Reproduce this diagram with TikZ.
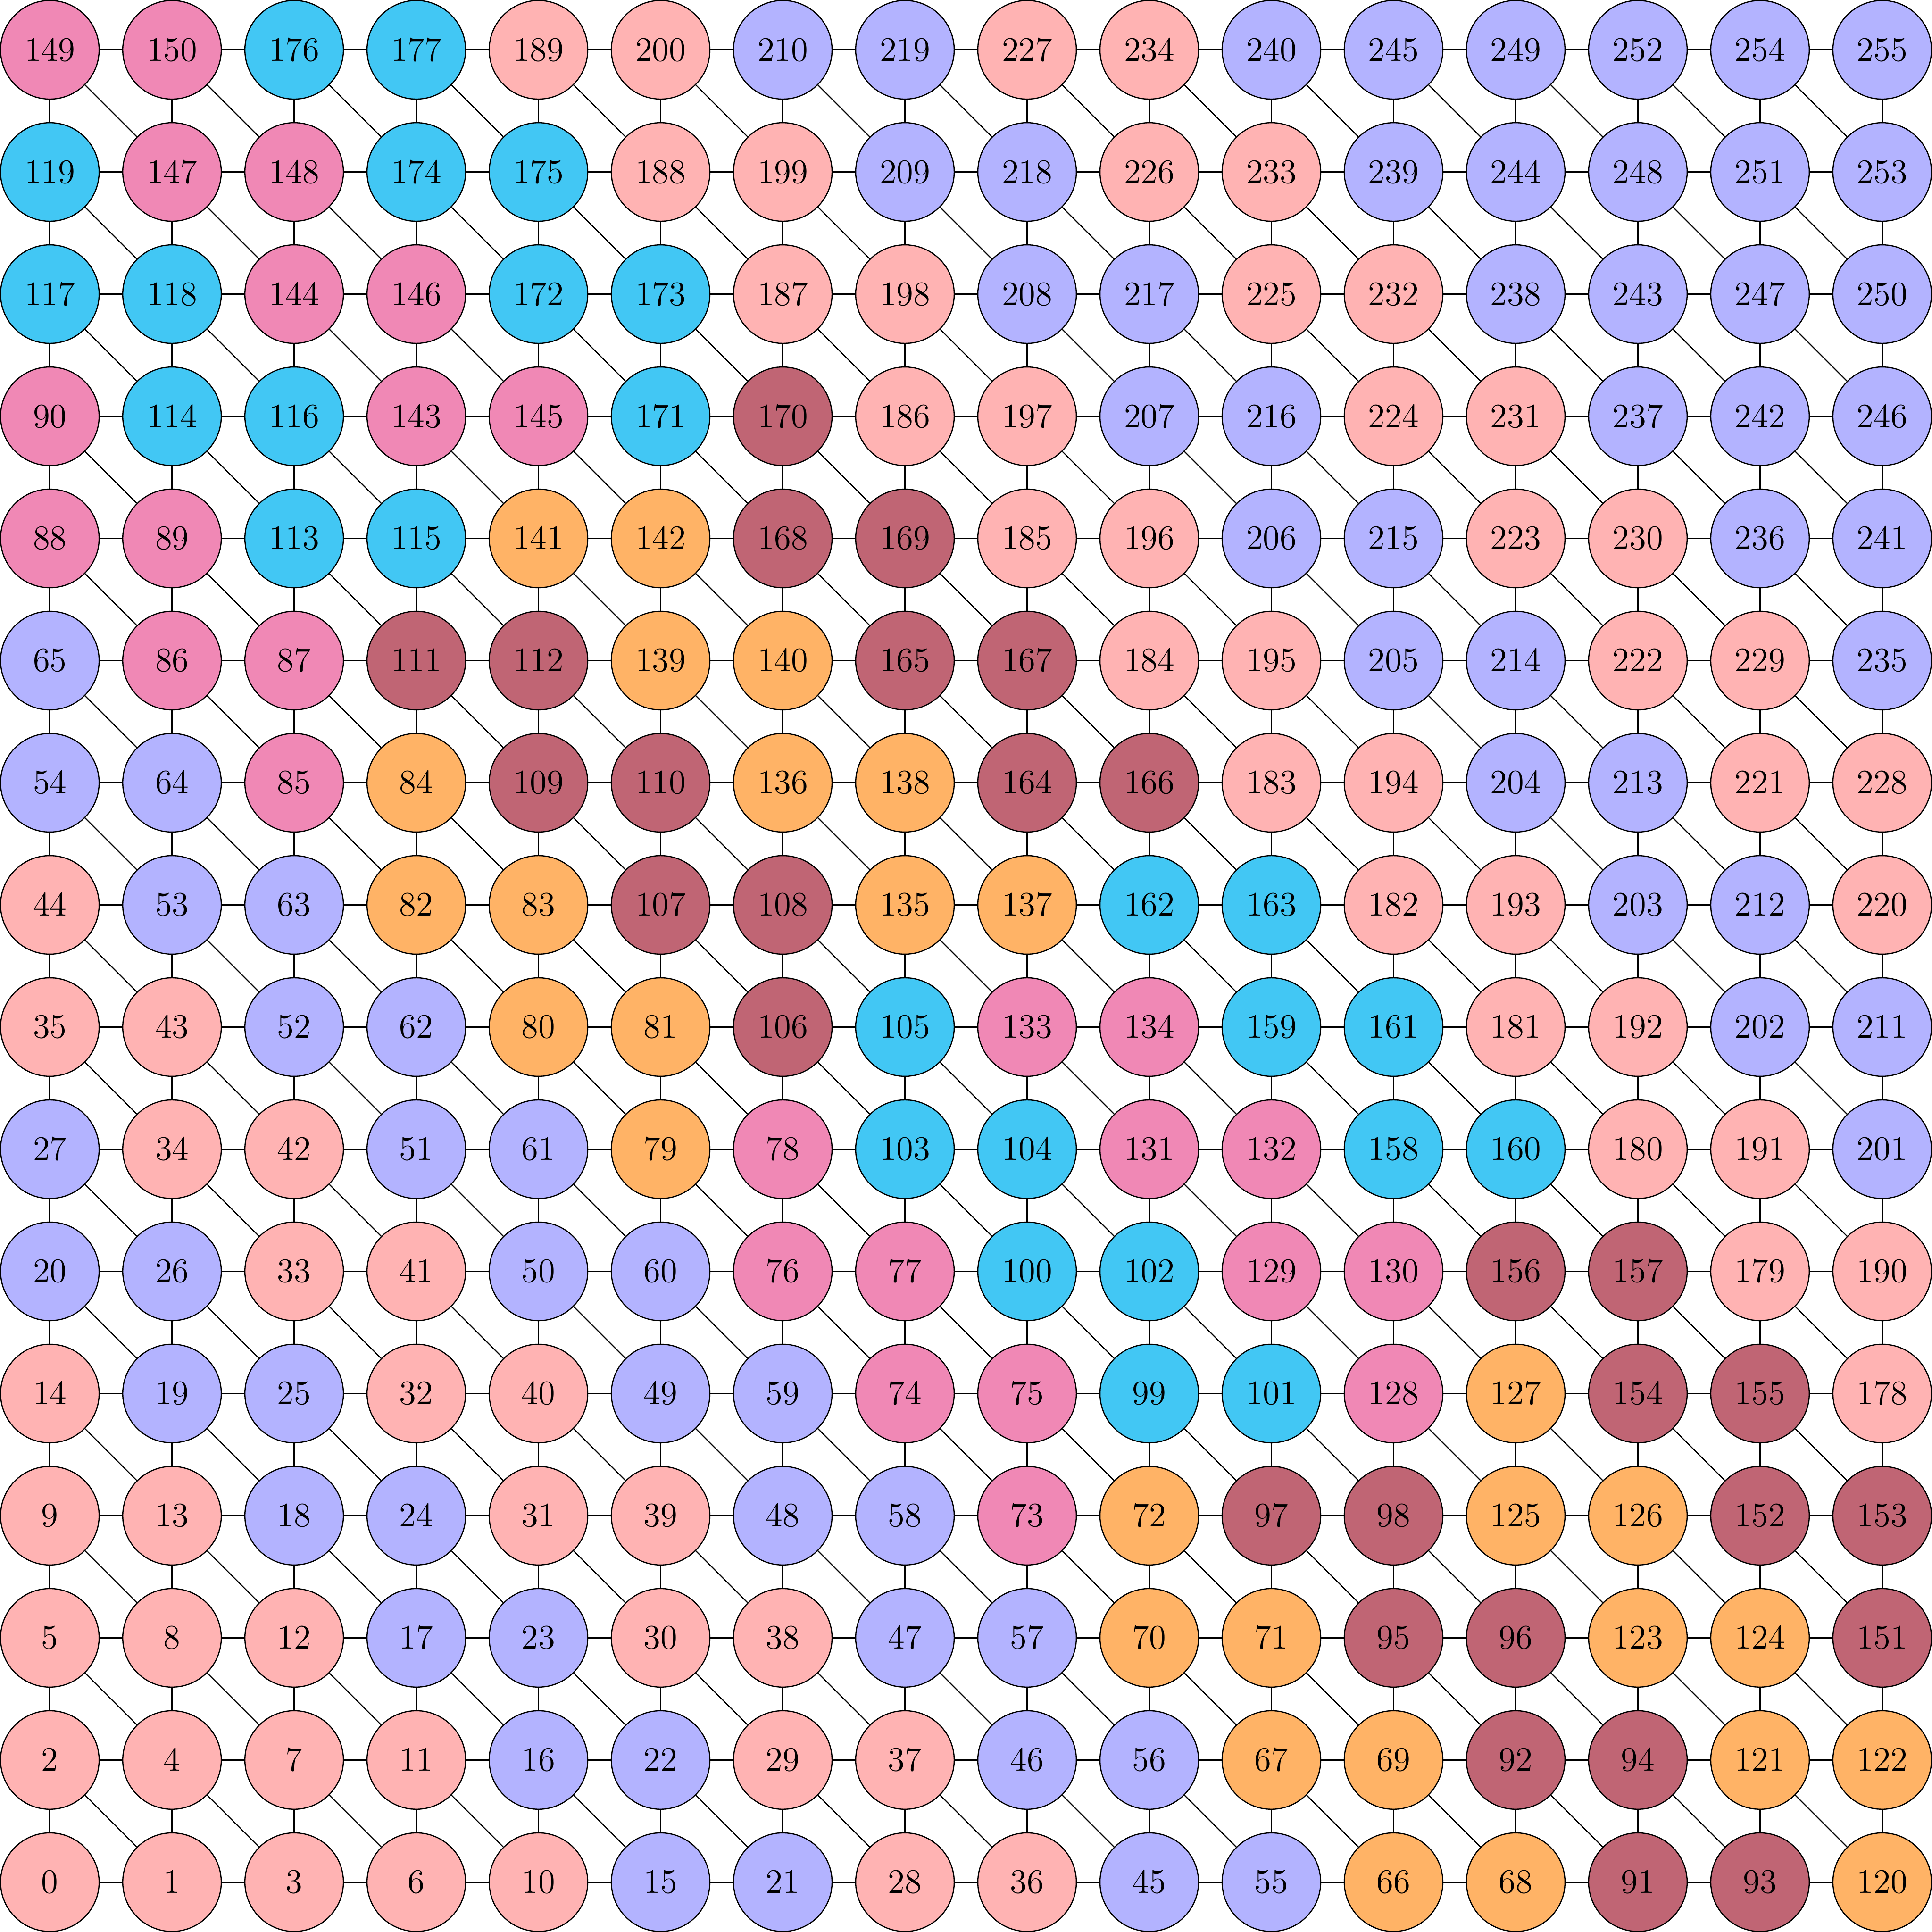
\documentclass[tikz,border=0pt]{standalone}
\usepackage{tikz}
\usepackage{xcolor}
\definecolor{rp}{RGB}{255,179,179}
\definecolor{la}{RGB}{179,179,255}
\definecolor{ro}{RGB}{240,136,181}
\definecolor{ci}{RGB}{66,199,244}
\definecolor{ab}{RGB}{255,179,102}
\definecolor{bo}{RGB}{192,101,116}
\tikzset{sommet/.style={circle, draw, thin, minimum size=1.21cm, inner sep=0pt,
    font=\fontsize{12.7}{15}\selectfont}}
\begin{document}
\begin{tikzpicture}[x=1.5cm, y=1.5cm]
	% Sommets, ligne par ligne depuis le haut
	\foreach \ligne [count=\k] in {
		{149/ro,150/ro,176/ci,177/ci,189/rp,200/rp,210/la,219/la,227/rp,234/rp,240/la,245/la,249/la,252/la,254/la,255/la},
		{119/ci,147/ro,148/ro,174/ci,175/ci,188/rp,199/rp,209/la,218/la,226/rp,233/rp,239/la,244/la,248/la,251/la,253/la},
		{117/ci,118/ci,144/ro,146/ro,172/ci,173/ci,187/rp,198/rp,208/la,217/la,225/rp,232/rp,238/la,243/la,247/la,250/la},
		{90/ro,114/ci,116/ci,143/ro,145/ro,171/ci,170/bo,186/rp,197/rp,207/la,216/la,224/rp,231/rp,237/la,242/la,246/la},
		{88/ro,89/ro,113/ci,115/ci,141/ab,142/ab,168/bo,169/bo,185/rp,196/rp,206/la,215/la,223/rp,230/rp,236/la,241/la},
		{65/la,86/ro,87/ro,111/bo,112/bo,139/ab,140/ab,165/bo,167/bo,184/rp,195/rp,205/la,214/la,222/rp,229/rp,235/la},
		{54/la,64/la,85/ro,84/ab,109/bo,110/bo,136/ab,138/ab,164/bo,166/bo,183/rp,194/rp,204/la,213/la,221/rp,228/rp},
		{44/rp,53/la,63/la,82/ab,83/ab,107/bo,108/bo,135/ab,137/ab,162/ci,163/ci,182/rp,193/rp,203/la,212/la,220/rp},
		{35/rp,43/rp,52/la,62/la,80/ab,81/ab,106/bo,105/ci,133/ro,134/ro,159/ci,161/ci,181/rp,192/rp,202/la,211/la},
		{27/la,34/rp,42/rp,51/la,61/la,79/ab,78/ro,103/ci,104/ci,131/ro,132/ro,158/ci,160/ci,180/rp,191/rp,201/la},
		{20/la,26/la,33/rp,41/rp,50/la,60/la,76/ro,77/ro,100/ci,102/ci,129/ro,130/ro,156/bo,157/bo,179/rp,190/rp},
		{14/rp,19/la,25/la,32/rp,40/rp,49/la,59/la,74/ro,75/ro,99/ci,101/ci,128/ro,127/ab,154/bo,155/bo,178/rp},
		{9/rp,13/rp,18/la,24/la,31/rp,39/rp,48/la,58/la,73/ro,72/ab,97/bo,98/bo,125/ab,126/ab,152/bo,153/bo},
		{5/rp,8/rp,12/rp,17/la,23/la,30/rp,38/rp,47/la,57/la,70/ab,71/ab,95/bo,96/bo,123/ab,124/ab,151/bo},
		{2/rp,4/rp,7/rp,11/rp,16/la,22/la,29/rp,37/rp,46/la,56/la,67/ab,69/ab,92/bo,94/bo,121/ab,122/ab},
		{0/rp,1/rp,3/rp,6/rp,10/rp,15/la,21/la,28/rp,36/rp,45/la,55/la,66/ab,68/ab,91/bo,93/bo,120/ab}}
	{
		\pgfmathtruncatemacro{\y}{16-\k}
		\foreach \n/\c [count=\i] in \ligne {
			\pgfmathtruncatemacro{\x}{\i-1}
			\node[sommet, fill=\c] (n-\x-\y) at (\x,\y) {$\n$};
		}
	}
	% Aretes horizontales, verticales et diagonales
	\foreach \a in {0,...,14}
		\foreach \c in {0,...,15} {
			\pgfmathtruncatemacro{\aa}{\a+1}
			\draw (n-\a-\c) -- (n-\aa-\c);
			\draw (n-\c-\a) -- (n-\c-\aa);
		}
	\foreach \a in {0,...,14}
		\foreach \c in {1,...,15} {
			\pgfmathtruncatemacro{\aa}{\a+1}
			\pgfmathtruncatemacro{\cc}{\c-1}
			\draw (n-\a-\c) -- (n-\aa-\cc);
		}
\end{tikzpicture}
\end{document}
